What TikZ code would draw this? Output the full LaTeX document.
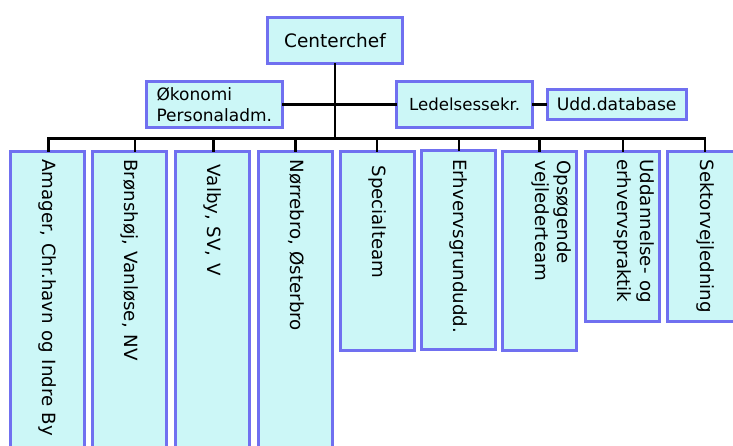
\documentclass[tikz,border=0pt]{standalone}
\usepackage{fontspec}
\setmainfont{DejaVu Sans}
\newfontfamily\vfont[WordSpace=1.12]{DejaVu Sans}
\definecolor{bcol}{RGB}{112,112,240}
\definecolor{fcol}{RGB}{204,247,247}
\tikzset{
  box/.style={draw=bcol, fill=fcol, line width=3pt, inner sep=0pt, outer sep=0pt},
  colbox/.style={box, minimum width=74pt},
  vlabel/.style={rotate=-90, anchor=west, inner sep=0pt, align=left,
    font=\vfont\fontsize{18.2}{22.5}\selectfont, text height=13.8pt, text depth=4.3pt},
  conn/.style={draw=black, line width=2.6pt},
}
\begin{document}
\begin{tikzpicture}[x=1pt,y=-1pt]
\useasboundingbox (0,0) rectangle (733,445);
\clip (0,0) rectangle (733,445);

% top boxes
\node[box, minimum width=135.5pt, minimum height=46pt, font=\fontsize{18.5}{22}\selectfont] (cc) at (335,40.3) {Centerchef};
\node[box, minimum width=135.5pt, minimum height=45.5pt, align=left, font=\fontsize{17}{21}\selectfont] (oek) at (214.3,104.5) {Økonomi\\Personaladm.};
\node[box, minimum width=135.5pt, minimum height=45.5pt, font=\fontsize{16.6}{20}\selectfont] (led) at (464.7,104.5) {Ledelsessekr.};
\node[box, minimum width=139pt, minimum height=30.5pt, font=\fontsize{17.2}{20}\selectfont] (udd) at (616.7,104.5) {Udd.database};

% column boxes
\node[colbox, minimum height=317pt] (b1) at (47,310) {};
\node[colbox, minimum height=317pt] (b2) at (129.2,310) {};
\node[colbox, minimum height=317pt] (b3) at (212.2,310) {};
\node[colbox, minimum height=317pt] (b4) at (295.3,310) {};
\node[colbox, minimum height=199.3pt] (b5) at (377.5,251.2) {};
\node[colbox, minimum height=198.7pt] (b6) at (458.5,250.2) {};
\node[colbox, minimum height=199.3pt] (b7) at (539.8,251.2) {};
\node[colbox, minimum height=169.7pt] (b8) at (622.7,236.4) {};
\node[colbox, minimum height=169.7pt, minimum width=75.3pt] (b9) at (704.9,236.4) {};

% column labels
\node[vlabel] (t1) at ([yshift=-7.7pt]b1.north) {Amager, Chr.havn og Indre By};
\node[vlabel] (t2) at ([yshift=-7.7pt]b2.north) {Brønshøj, Vanløse, NV};
\node[vlabel] (t3) at ([yshift=-13.2pt]b3.north) {Valby, SV, V};
\node[vlabel] (t4) at ([yshift=-7.7pt]b4.north) {Nørrebro, Østerbro};
\node[vlabel] (t5) at ([yshift=-13.7pt]b5.north) {Specialteam};
\node[vlabel] (t6) at ([yshift=-8.2pt]b6.north) {Erhvervsgrundudd.};
\node[vlabel] (t7) at ([yshift=-8.7pt]b7.north) {Opsøgende\\vejlederteam};
\node[vlabel] (t8) at ([yshift=-7.7pt]b8.north) {Uddannelse- og\\erhvervspraktik};
\node[vlabel] (t9) at ([yshift=-7.7pt]b9.north) {Sektorvejledning};

% bus coordinates
\coordinate (d1) at (48.3,138.3);
\coordinate (d2) at (135,138.3);
\coordinate (d3) at (213.3,138.3);
\coordinate (d4) at (295.7,138.3);
\coordinate (d5) at (377,138.3);
\coordinate (d6) at (459,138.3);
\coordinate (d7) at (539.5,138.3);
\coordinate (d8) at (623,138.3);
\coordinate (d9) at (705,138.3);
\coordinate (dm) at (335,138.3);

% connectors
\draw[conn] (cc.south) -- (dm);
\draw[conn] (oek.east) -- (led.west);
\draw[conn] (led.east) -- (udd.west);
\draw[conn] (d1 |- b1.north) -- (d1) -- (d9) -- (d9 |- b9.north);
\foreach \i in {2,...,8} {
  \draw[conn] (d\i) -- (d\i |- b\i.north);
}
\end{tikzpicture}
\end{document}
